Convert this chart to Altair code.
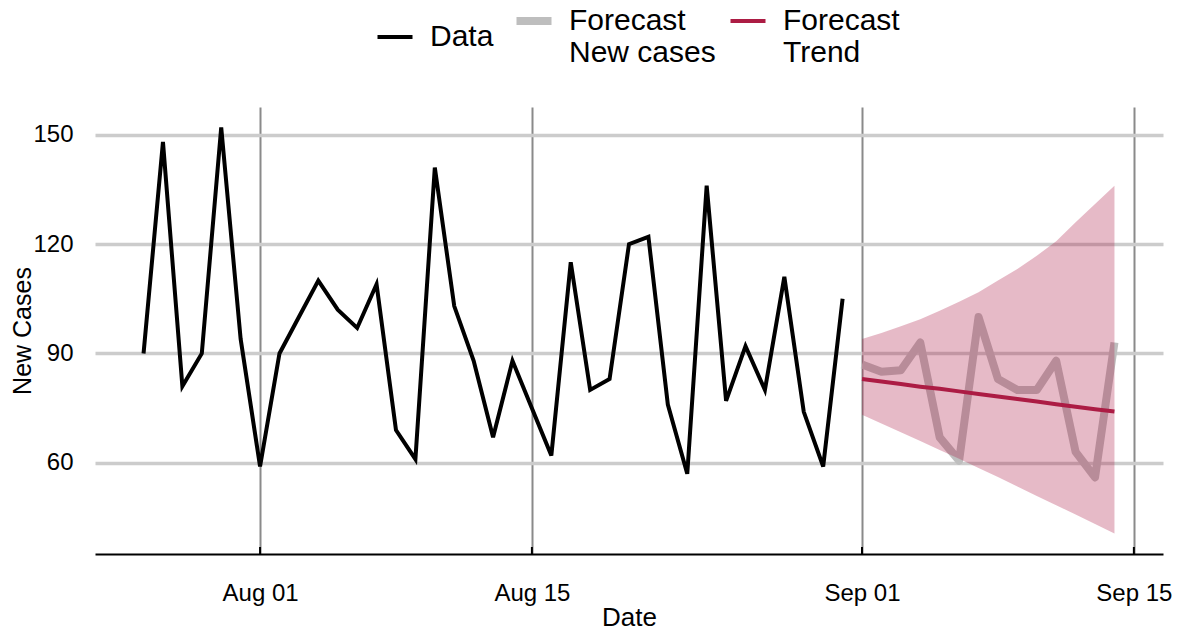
import altair as alt
import pandas as pd

# ---- data ----
data_dates = pd.date_range("2020-07-26", "2020-08-31", freq="D")
data_values = [90, 148, 81, 90, 152, 94, 59, 90, 100, 110, 102, 97, 109, 69, 61,
               141, 103, 88, 67, 88, 75, 62, 115, 80, 83, 120, 122, 76, 57, 136,
               77, 92, 80, 111, 74, 59, 105]

fc_dates = pd.date_range("2020-09-01", "2020-09-14", freq="D")
fc_new_cases = [87, 85, 85.4, 93, 67, 60.6, 100, 83, 80, 80, 88, 63, 56, 93]
fc_trend = [83, 82.3, 81.6, 80.9, 80.3, 79.6, 78.9, 78.2, 77.5, 76.8, 76.1, 75.4, 74.7, 74.1]
fc_upper = [94, 95.6, 97.5, 99.4, 101.7, 104.2, 106.8, 110, 113.2, 116.8, 120.8, 126, 131, 136]
fc_lower = [73.2, 70.8, 68.4, 66.0, 63.5, 61.1, 58.6, 56.1, 53.5, 50.9, 48.4, 45.8, 43.2, 40.6]

tick_dates = ["2020-08-01T00:00:00", "2020-08-15T00:00:00",
              "2020-09-01T00:00:00", "2020-09-15T00:00:00"]

series_names = ["Data", "Forecast|New cases", "Forecast|Trend"]
series_colors = ["#000000", "#bebebe", "#AC1C44"]

fmt = "%Y-%m-%dT00:00:00"
df_lines = pd.concat([
    pd.DataFrame({"date": data_dates.strftime(fmt), "value": data_values, "series": series_names[0]}),
    pd.DataFrame({"date": fc_dates.strftime(fmt), "value": fc_new_cases, "series": series_names[1]}),
    pd.DataFrame({"date": fc_dates.strftime(fmt), "value": fc_trend, "series": series_names[2]}),
])
df_band = pd.DataFrame({"date": fc_dates.strftime(fmt), "lower": fc_lower, "upper": fc_upper})
df_ticks = pd.DataFrame({"date": tick_dates})

FONT = "Liberation Sans"
W, H = 1068, 447

x_scale = alt.Scale(domain=[alt.DateTime(year=2020, month=7, date=23, hours=12),
                            alt.DateTime(year=2020, month=9, date=16, hours=12)])
y_scale = alt.Scale(domain=[35.0, 157.6], nice=False, zero=False)

x_enc = alt.X("date:T", scale=x_scale, title="Date",
              axis=alt.Axis(values=[alt.DateTime(year=2020, month=8, date=1),
                                    alt.DateTime(year=2020, month=8, date=15),
                                    alt.DateTime(year=2020, month=9, date=1),
                                    alt.DateTime(year=2020, month=9, date=15)],
                            format="%b %d", grid=True, gridColor="#8a8a8a", gridWidth=2,
                            ticks=False, domain=True, domainColor="#000000", domainWidth=2,
                            labelFontSize=24, labelPadding=27, labelColor="#000000",
                            titleFontSize=26, titleFontWeight="normal", titleColor="#000000",
                            titleY=71, titleBaseline="alphabetic"))
y_enc = alt.Y("value:Q", scale=y_scale, title="New Cases",
              axis=alt.Axis(values=[60, 90, 120, 150], grid=True, gridColor="#cccccc",
                            gridWidth=3.5, ticks=False, domain=False, labelFontSize=24,
                            labelPadding=22, labelColor="#000000",
                            titleFontSize=25, titleFontWeight="normal", titleColor="#000000",
                            titleX=-73, titleY=H / 2, titleBaseline="middle",
                            titleAlign="center", titleAngle=270))

legend = alt.Legend(title=None, orient="none", direction="horizontal",
                    legendX=285, legendY=-101, padding=0,
                    symbolType="stroke", symbolSize=1225,
                    symbolStrokeWidth=alt.ExprRef("datum.value == 'Forecast|New cases' ? 8 : 4"),
                    labelFontSize=30, labelFont=FONT, labelColor="#000000",
                    labelExpr="split(datum.label, '|')",
                    labelOffset=20, columnPadding=6)

color_enc = alt.Color("series:N", scale=alt.Scale(domain=series_names, range=series_colors),
                      legend=legend)

base = alt.Chart(df_lines)

gray_line = base.transform_filter(alt.datum.series == series_names[1]).mark_line(
    strokeJoin="round", strokeWidth=8).encode(x=x_enc, y=y_enc, color=color_enc)

band = alt.Chart(df_band).mark_area(color="#AC1C44", opacity=0.3).encode(
    x="date:T", y=alt.Y("lower:Q"), y2="upper:Q")

other_lines = base.transform_filter(alt.datum.series != series_names[1]).mark_line(
    strokeWidth=4).encode(x=x_enc, y=y_enc, color=color_enc)

ticks = alt.Chart(df_ticks).mark_rule(color="#000000", strokeWidth=2).encode(
    x="date:T", y=alt.value(H - 7), y2=alt.value(H))

chart = alt.layer(gray_line, band, other_lines, ticks).properties(
    width=W, height=H, autosize=alt.AutoSizeParams(type="none"),
    padding={"left": 87, "top": 99, "right": 15, "bottom": 85}
).configure(font=FONT).configure_view(strokeWidth=0)

chart.save("out.html", embed_options={"renderer": "svg", "actions": False})
